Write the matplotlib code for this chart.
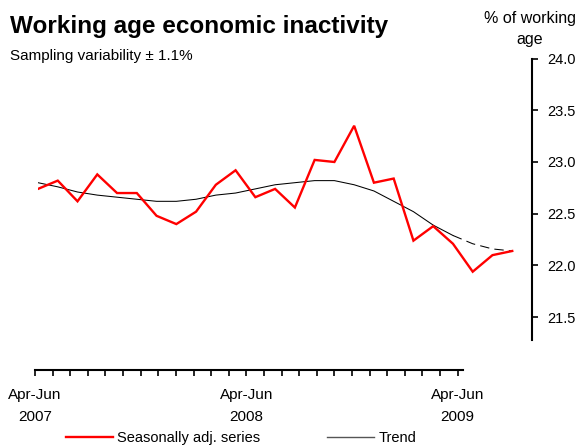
import numpy as np
import matplotlib.pyplot as plt
from matplotlib.lines import Line2D

plt.rcParams['font.family'] = ['Liberation Sans', 'DejaVu Sans']

# rolling quarters Apr-Jun 2007 .. Apr-Jun 2009
seasonal = [22.74, 22.82, 22.62, 22.88, 22.70, 22.70, 22.48, 22.40, 22.52,
            22.78, 22.92, 22.66, 22.74, 22.56, 23.02, 23.00, 23.35, 22.80,
            22.84, 22.24, 22.38, 22.21, 21.94, 22.10, 22.14]
trend = [22.80, 22.76, 22.71, 22.68, 22.66, 22.64, 22.62, 22.62, 22.64,
         22.68, 22.70, 22.74, 22.78, 22.80, 22.82, 22.82, 22.78, 22.72,
         22.62, 22.52, 22.39, 22.29, 22.21, 22.16, 22.14]
dash_from = 21  # trend shown dashed for the latest estimates
xlabels = {0: "Apr-Jun\n2007", 12: "Apr-Jun\n2008", 24: "Apr-Jun\n2009"}
yticks = [21.5, 22.0, 22.5, 23.0, 23.5, 24.0]

W, H = 584, 446
fig = plt.figure(figsize=(W / 100, H / 100), dpi=100)

def box(x0, y0, x1, y1):
    return [x0 / W, 1 - y1 / H, (x1 - x0) / W, (y1 - y0) / H]

ax = fig.add_axes(box(38, 58.5, 532, 340))
x = np.arange(len(seasonal))
ax.plot(x, seasonal, color='#ff0000', lw=1.7, solid_joinstyle='miter', zorder=3)
ax.plot(x[:dash_from + 1], trend[:dash_from + 1], color='black', lw=0.75)
ax.plot(x[dash_from:], trend[dash_from:], color='black', lw=0.75, dashes=(9, 5))
ax.set_xlim(0, 25.0)
ax.set_ylim(21.28, 24.0)
for s in ['top', 'left', 'bottom']:
    ax.spines[s].set_visible(False)
ax.spines['right'].set_linewidth(1.5)
ax.set_xticks([])
ax.yaxis.tick_right()
ax.set_yticks(yticks)
ax.set_yticklabels([f"{v:.1f}" for v in yticks])
ax.tick_params(axis='y', direction='out', length=4, width=1.2, pad=7, labelsize=10.5)

# category axis drawn on its own, below the plot
axx = fig.add_axes(box(35, 369, 463, 370))
axx.set_xlim(0, 24.3)
axx.set_ylim(0, 1)
axx.set_yticks([])
for s in ['top', 'left', 'right']:
    axx.spines[s].set_visible(False)
axx.spines['bottom'].set_linewidth(1.5)
axx.set_xticks(x)
axx.set_xticklabels([xlabels.get(i, "") for i in x], linespacing=1.7)
axx.tick_params(axis='x', direction='out', length=4, width=1.2, pad=9, labelsize=11)
axx.patch.set_visible(False)

fig.text(10 / W, 1 - 33 / H, "Working age economic inactivity", fontsize=17.5,
         fontweight='bold', ha='left', va='baseline')
fig.text(10 / W, 1 - 60 / H, "Sampling variability \u00b1 1.1%", fontsize=11,
         ha='left', va='baseline')
fig.text(530 / W, 1 - 11 / H, "% of working\nage", fontsize=11.5, ha='center',
         va='top', linespacing=1.5, multialignment='center')

handles = [Line2D([], [], color='#ff0000', lw=1.7), Line2D([], [], color='#555555', lw=1.0)]
fig.legend(handles, ["Seasonally adj. series", "Trend"], loc='center left',
           bbox_to_anchor=(66 / W, 1 - 438 / H), ncol=2, frameon=False,
           fontsize=10.5, handlelength=3.2, handletextpad=0.3, columnspacing=4.6,
           borderaxespad=0, borderpad=0)

fig.savefig("out.png", dpi=100)
